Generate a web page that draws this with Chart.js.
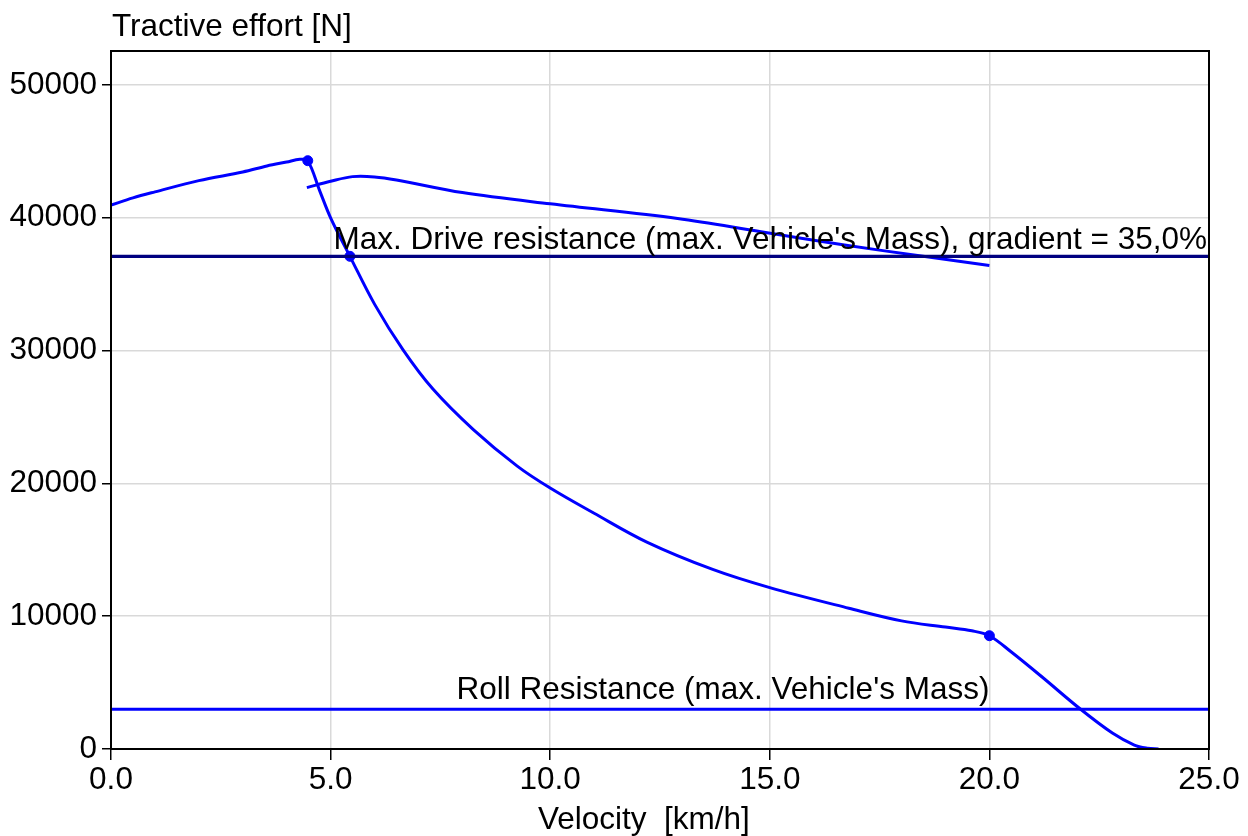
<!DOCTYPE html>
<html>
<head>
  <meta charset="UTF-8">
  <title>Tractive effort</title>
  <style>
    body { margin: 0; background: #fff; }
    .chart-container { width: 1248px; height: 836px; }
  </style>
</head>
<body>
  <div class="chart-container">
    <canvas id="effortChart"></canvas>
  </div>

  <script src="https://cdn.jsdelivr.net/npm/chart.js@4.4.0/dist/chart.umd.min.js"></script>
  <script>
    // Tractive effort curve (km/h -> N)
    const tractiveX = [0, 0.5, 1.0, 2.0, 3.0, 3.55, 4.0, 4.3, 4.48, 4.75, 5.0, 5.44, 6.0, 6.65, 7.33, 8.25, 9.25, 10.0, 11.0, 12.2, 13.7, 15.0, 16.8, 18.0, 19.0, 19.6, 20.0, 20.5, 21.2, 22.07, 22.8, 23.3, 23.6, 23.85];
    const tractiveY = [40960, 41500, 41950, 42800, 43450, 43900, 44200, 44400, 44300, 42050, 40000, 37100, 33500, 30050, 27100, 24050, 21300, 19650, 17750, 15580, 13520, 12150, 10600, 9650, 9180, 8900, 8530, 7300, 5420, 3010, 1200, 300, 60, 0];

    // Second gear branch
    const gear2X = [4.46, 5.0, 5.5, 6.0, 6.5, 8.0, 10.0, 12.9, 14.8, 16.7, 18.45, 20.0];
    const gear2Y = [42270, 42750, 43100, 43080, 42850, 41900, 41050, 39950, 38950, 37950, 37120, 36400];

    // Marked points
    const markX = [4.48, 5.44, 20.0];
    const markY = [44300, 37100, 8530];

    // Resistance levels
    const maxDriveResistance = 37100;
    const rollResistance = 3000;
    const velocityRange = [0, 25];

    // Axis ticks
    const xTicks = [0, 5, 10, 15, 20, 25];
    const yTicks = [0, 10000, 20000, 30000, 40000, 50000];

    const maxDriveLabel = "Max. Drive resistance (max. Vehicle's Mass), gradient = 35,0%";
    const rollLabel = "Roll Resistance (max. Vehicle's Mass)";
    const yTitle = 'Tractive effort [N]';
    const xTitle = 'Velocity  [km/h]';

    const toPoints = (xs, ys) => xs.map((x, i) => ({ x: x, y: ys[i] }));
    const FONT = '"Liberation Sans", Arial, sans-serif';
    const FSIZE = 31.5;

    // draws frame, titles and the line labels
    const extras = {
      id: 'extras',
      afterDraw(chart) {
        const { ctx, chartArea: a, scales: { x, y } } = chart;
        ctx.save();
        ctx.strokeStyle = '#000';
        ctx.lineWidth = 2;
        ctx.strokeRect(a.left, a.top, a.right - a.left, a.bottom - a.top);

        ctx.fillStyle = '#000';
        ctx.font = FSIZE + 'px ' + FONT;
        ctx.textBaseline = 'alphabetic';
        ctx.textAlign = 'left';
        ctx.fillText(yTitle, 112, 36);
        ctx.fillText(xTitle, 538, 829);

        ctx.textAlign = 'right';
        ctx.fillText(maxDriveLabel, x.getPixelForValue(25) - 2, y.getPixelForValue(maxDriveResistance) - 7);
        ctx.fillText(rollLabel, x.getPixelForValue(20), y.getPixelForValue(rollResistance) - 10);
        ctx.restore();
      }
    };

    const ctx = document.getElementById('effortChart').getContext('2d');
    new Chart(ctx, {
      type: 'scatter',
      data: {
        datasets: [
          {
            label: 'Max. Drive resistance',
            data: toPoints(velocityRange, [maxDriveResistance, maxDriveResistance]),
            showLine: true,
            borderColor: '#000080',
            borderWidth: 3.2,
            pointRadius: 0
          },
          {
            label: 'Roll Resistance',
            data: toPoints(velocityRange, [rollResistance, rollResistance]),
            showLine: true,
            borderColor: '#0000ff',
            borderWidth: 3,
            pointRadius: 0
          },
          {
            label: 'Tractive effort',
            data: toPoints(tractiveX, tractiveY),
            showLine: true,
            borderColor: '#0000ff',
            borderWidth: 3,
            tension: 0.35,
            pointRadius: 0
          },
          {
            label: 'Gear 2',
            data: toPoints(gear2X, gear2Y),
            showLine: true,
            borderColor: '#0000ff',
            borderWidth: 3,
            tension: 0.35,
            pointRadius: 0
          },
          {
            label: 'Points',
            data: toPoints(markX, markY),
            showLine: false,
            backgroundColor: '#0000ff',
            borderColor: '#0000ff',
            pointRadius: 5
          }
        ]
      },
      options: {
        responsive: true,
        maintainAspectRatio: false,
        animation: false,
        layout: { padding: { top: 51, right: 39, left: 0, bottom: 0 } },
        scales: {
          x: {
            type: 'linear',
            min: 0,
            max: 25,
            afterFit: s => { s.height = 87; },
            afterBuildTicks: s => { s.ticks = xTicks.map(v => ({ value: v })); },
            border: { color: '#000', width: 2 },
            grid: { color: '#d9d9d9', lineWidth: 1.5, tickColor: '#000', tickLength: 11, tickWidth: 1.5 },
            ticks: {
              color: '#000',
              padding: 1,
              maxRotation: 0,
              font: { family: FONT, size: FSIZE },
              callback: v => Number(v).toFixed(1)
            }
          },
          y: {
            type: 'linear',
            min: 0,
            max: 52560,
            afterFit: s => { s.width = 111; },
            afterBuildTicks: s => { s.ticks = yTicks.map(v => ({ value: v })); },
            border: { color: '#000', width: 2 },
            grid: { color: '#d9d9d9', lineWidth: 1.5, tickColor: '#000', tickLength: 9, tickWidth: 1.5 },
            ticks: {
              color: '#000',
              padding: 5,
              font: { family: FONT, size: FSIZE },
              callback: v => String(v)
            }
          }
        },
        plugins: {
          legend: { display: false },
          tooltip: { enabled: false }
        }
      },
      plugins: [extras]
    });
  </script>
</body>
</html>
